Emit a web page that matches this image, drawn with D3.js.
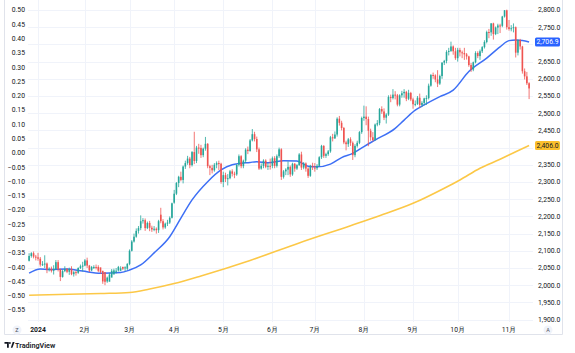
<!DOCTYPE html>
<html>
<head>
<meta charset="utf-8">
<script src="https://cdnjs.cloudflare.com/ajax/libs/d3/7.8.5/d3.min.js"></script>
<style>
  body { margin: 0; background: #fff; }
  svg { display: block; font-family: Roboto, "Liberation Sans", sans-serif; }
</style>
</head>
<body>
<div id="chart"></div>
<script>
// trading sessions, by month
const tradingDays = [
  ["2023-12", [26, 27, 28, 29]],
  ["2024-01", [2, 3, 4, 5, 8, 9, 10, 11, 12, 16, 17, 18, 19, 22, 23, 24, 25, 26, 29, 30, 31]],
  ["2024-02", [1, 2, 5, 6, 7, 8, 9, 12, 13, 14, 15, 16, 20, 21, 22, 23, 26, 27, 28, 29]],
  ["2024-03", [1, 4, 5, 6, 7, 8, 11, 12, 13, 14, 15, 18, 19, 20, 21, 22, 25, 26, 27, 28]],
  ["2024-04", [1, 2, 3, 4, 5, 8, 9, 10, 11, 12, 15, 16, 17, 18, 19, 22, 23, 24, 25, 26, 29, 30]],
  ["2024-05", [1, 2, 3, 6, 7, 8, 9, 10, 13, 14, 15, 16, 17, 20, 21, 22, 23, 24, 28, 29, 30, 31]],
  ["2024-06", [3, 4, 5, 6, 7, 10, 11, 12, 13, 14, 17, 18, 20, 21, 24, 25, 26, 27, 28]],
  ["2024-07", [1, 2, 3, 5, 8, 9, 10, 11, 12, 15, 16, 17, 18, 19, 22, 23, 24, 25, 26, 29, 30, 31]],
  ["2024-08", [1, 2, 5, 6, 7, 8, 9, 12, 13, 14, 15, 16, 19, 20, 21, 22, 23, 26, 27, 28, 29, 30]],
  ["2024-09", [3, 4, 5, 6, 9, 10, 11, 12, 13, 16, 17, 18, 19, 20, 23, 24, 25, 26, 27, 30]],
  ["2024-10", [1, 2, 3, 4, 7, 8, 9, 10, 11, 14, 15, 16, 17, 18, 21, 22, 23, 24, 25, 28, 29, 30, 31]],
  ["2024-11", [1, 4, 5, 6, 7, 8, 11, 12, 13, 14]]
];

const opens = [
  2071, 2085, 2093, 2083,
  2081, 2077, 2060, 2061, 2063, 2045, 2048, 2042, 2047, 2067, 2046, 2024, 2041, 2047, 2039, 2047, 2032, 2038, 2036, 2050, 2055,
  2057, 2072, 2057, 2043, 2053, 2053, 2053, 2052, 2042, 2038, 2011, 2010, 2022, 2031, 2042, 2043, 2042, 2053, 2049, 2048,
  2062, 2100, 2127, 2141, 2158, 2166, 2186, 2189, 2166, 2181, 2167, 2162, 2164, 2160, 2205, 2186, 2168, 2179, 2182, 2196,
  2240, 2266, 2297, 2315, 2306, 2345, 2355, 2368, 2349, 2387, 2361, 2400, 2399, 2378, 2397, 2411, 2346, 2341, 2334, 2350, 2355, 2353,
  2300, 2320, 2309, 2311, 2331, 2324, 2322, 2350, 2375, 2346, 2362, 2394, 2390, 2421, 2439, 2425, 2395, 2339, 2347, 2362, 2344, 2347,
  2347, 2369, 2347, 2375, 2395, 2315, 2331, 2336, 2344, 2322, 2353, 2339, 2349, 2380, 2342, 2354, 2339, 2318, 2347,
  2342, 2340, 2347, 2372, 2405, 2376, 2381, 2389, 2430, 2427, 2438, 2484, 2472, 2457, 2415, 2410, 2424, 2414, 2378, 2405, 2414, 2445,
  2486, 2490, 2483, 2449, 2430, 2422, 2467, 2471, 2512, 2505, 2487, 2496, 2547, 2544, 2554, 2552, 2525, 2552, 2558, 2562, 2542, 2559,
  2540, 2526, 2527, 2545, 2524, 2530, 2543, 2544, 2580, 2611, 2610, 2598, 2586, 2608, 2647, 2652, 2678, 2681, 2694, 2680,
  2660, 2684, 2677, 2675, 2671, 2665, 2640, 2627, 2648, 2675, 2666, 2680, 2692, 2707, 2736, 2735, 2761, 2730, 2749, 2755, 2754, 2781, 2799,
  2750, 2745, 2747, 2750, 2676, 2712, 2694, 2622, 2607, 2587
];
const highs = [
  2093, 2096, 2098, 2088,
  2094, 2082, 2070, 2087, 2066, 2052, 2054, 2058, 2073, 2073, 2048, 2045, 2055, 2050, 2051, 2055, 2041, 2042, 2052, 2060, 2068,
  2076, 2080, 2059, 2056, 2058, 2060, 2058, 2048, 2041, 2018, 2025, 2036, 2047, 2048, 2050, 2056, 2055, 2054, 2055, 2064,
  2104, 2131, 2150, 2165, 2172, 2203, 2195, 2194, 2185, 2187, 2173, 2172, 2168, 2190, 2225, 2192, 2182, 2190, 2200, 2240,
  2277, 2300, 2318, 2330, 2348, 2362, 2376, 2373, 2390, 2446, 2405, 2411, 2408, 2400, 2431, 2413, 2350, 2350, 2355, 2360, 2362, 2356,
  2330, 2327, 2323, 2335, 2337, 2330, 2352, 2380, 2378, 2365, 2398, 2403, 2425, 2454, 2446, 2432, 2400, 2354, 2366, 2366, 2355, 2368,
  2374, 2375, 2380, 2400, 2398, 2335, 2340, 2360, 2348, 2356, 2355, 2352, 2384, 2388, 2358, 2357, 2343, 2350, 2356,
  2355, 2352, 2375, 2408, 2407, 2385, 2393, 2434, 2440, 2447, 2488, 2492, 2478, 2460, 2420, 2428, 2430, 2418, 2410, 2420, 2448, 2490,
  2522, 2520, 2490, 2455, 2445, 2470, 2480, 2515, 2520, 2514, 2500, 2552, 2554, 2570, 2564, 2556, 2555, 2565, 2570, 2565, 2568, 2562,
  2545, 2537, 2550, 2557, 2535, 2545, 2552, 2586, 2614, 2618, 2613, 2625, 2612, 2648, 2655, 2683, 2690, 2708, 2697, 2690,
  2690, 2690, 2682, 2690, 2675, 2667, 2646, 2650, 2680, 2680, 2685, 2695, 2712, 2740, 2745, 2762, 2763, 2752, 2760, 2760, 2783, 2800, 2801,
  2771, 2756, 2761, 2752, 2715, 2716, 2696, 2630, 2620, 2590
];
const lows = [
  2069, 2080, 2078, 2072,
  2071, 2054, 2056, 2050, 2035, 2040, 2037, 2031, 2045, 2040, 2012, 2022, 2038, 2035, 2030, 2029, 2025, 2028, 2033, 2047, 2040,
  2055, 2050, 2038, 2041, 2047, 2046, 2038, 2033, 2004, 2000, 2007, 2015, 2029, 2035, 2034, 2040, 2042, 2044, 2041, 2044,
  2058, 2098, 2124, 2138, 2150, 2160, 2179, 2158, 2163, 2157, 2155, 2157, 2150, 2152, 2180, 2162, 2164, 2172, 2178, 2194,
  2237, 2262, 2285, 2302, 2296, 2338, 2350, 2340, 2345, 2352, 2355, 2382, 2370, 2372, 2391, 2340, 2320, 2325, 2330, 2340, 2335, 2295,
  2285, 2300, 2290, 2308, 2316, 2311, 2318, 2345, 2340, 2340, 2355, 2381, 2388, 2418, 2418, 2387, 2335, 2336, 2340, 2340, 2335, 2336,
  2340, 2340, 2342, 2370, 2306, 2310, 2320, 2320, 2315, 2318, 2330, 2335, 2347, 2335, 2337, 2330, 2312, 2315, 2335,
  2330, 2335, 2345, 2367, 2370, 2370, 2376, 2385, 2418, 2425, 2432, 2464, 2450, 2410, 2392, 2402, 2405, 2364, 2372, 2400, 2410, 2440,
  2478, 2465, 2404, 2420, 2418, 2420, 2462, 2465, 2498, 2480, 2470, 2492, 2532, 2540, 2540, 2520, 2520, 2545, 2545, 2535, 2538, 2535,
  2513, 2520, 2524, 2515, 2518, 2523, 2524, 2540, 2577, 2600, 2590, 2576, 2582, 2600, 2640, 2645, 2668, 2678, 2670, 2655,
  2650, 2665, 2660, 2655, 2656, 2635, 2620, 2622, 2645, 2660, 2655, 2675, 2688, 2703, 2718, 2725, 2714, 2727, 2730, 2733, 2750, 2778, 2743,
  2740, 2738, 2735, 2662, 2668, 2685, 2615, 2598, 2582, 2541
];
const closes = [
  2085, 2093, 2083, 2081,
  2077, 2060, 2061, 2063, 2045, 2048, 2042, 2047, 2067, 2046, 2024, 2041, 2047, 2039, 2047, 2032, 2038, 2036, 2050, 2055, 2057,
  2072, 2057, 2043, 2053, 2053, 2052, 2042, 2038, 2011, 2010, 2022, 2031, 2042, 2043, 2042, 2053, 2049, 2048, 2052, 2062,
  2100, 2127, 2141, 2158, 2166, 2186, 2189, 2166, 2181, 2167, 2162, 2164, 2160, 2186, 2186, 2168, 2179, 2182, 2196, 2238,
  2266, 2297, 2315, 2306, 2345, 2355, 2368, 2349, 2387, 2361, 2400, 2399, 2378, 2397, 2411, 2346, 2341, 2334, 2350, 2355, 2353, 2300,
  2320, 2309, 2311, 2331, 2324, 2322, 2350, 2375, 2346, 2362, 2394, 2390, 2421, 2439, 2425, 2395, 2339, 2347, 2362, 2344, 2347, 2345,
  2369, 2347, 2375, 2395, 2315, 2331, 2336, 2344, 2322, 2353, 2339, 2349, 2380, 2342, 2354, 2339, 2318, 2347, 2346,
  2340, 2347, 2372, 2405, 2376, 2381, 2389, 2430, 2427, 2438, 2484, 2472, 2457, 2415, 2410, 2424, 2414, 2378, 2405, 2414, 2445, 2486,
  2490, 2483, 2449, 2430, 2422, 2467, 2471, 2512, 2505, 2487, 2496, 2547, 2544, 2554, 2552, 2525, 2552, 2558, 2562, 2542, 2559, 2540,
  2526, 2527, 2545, 2524, 2530, 2543, 2544, 2580, 2611, 2610, 2598, 2586, 2608, 2647, 2652, 2678, 2681, 2694, 2680, 2660,
  2684, 2677, 2675, 2671, 2665, 2640, 2627, 2648, 2675, 2666, 2680, 2692, 2707, 2736, 2735, 2761, 2730, 2749, 2755, 2754, 2781, 2799, 2750,
  2745, 2747, 2750, 2676, 2712, 2694, 2622, 2607, 2587, 2572
];

// moving averages: bar index -> value
const fastMaBars = [0, 5, 9, 17, 24, 32, 41, 45, 50, 56, 63, 68, 73, 80, 86, 91, 99, 102, 107, 114, 120, 125, 129, 135, 140, 145, 150, 155, 164, 168, 173, 177, 184, 190, 197, 205, 211, 215, 218, 221, 224];
const fastMa = [2035, 2047, 2046, 2047, 2041, 2035, 2037, 2044, 2059, 2094, 2141, 2195, 2248, 2301, 2335, 2350, 2357, 2359, 2356, 2362, 2361, 2346, 2344, 2352, 2371, 2383, 2403, 2422, 2456, 2480, 2509, 2524, 2548, 2567, 2621, 2660, 2693, 2711, 2713, 2711, 2707];
const slowMaBars = [0, 32, 45, 54, 65, 77, 99, 121, 144, 157, 172, 186, 193, 202, 211, 218, 224];
const slowMa = [1971, 1976, 1979, 1989, 2005, 2027, 2072, 2123, 2173, 2202, 2238, 2282, 2306, 2340, 2366, 2388, 2406];

const monthLabels = ["2024", "2月", "3月", "4月", "5月", "6月", "7月", "8月", "9月", "10月", "11月"];
const leftTicks = [0.5, 0.45, 0.4, 0.35, 0.3, 0.25, 0.2, 0.15, 0.1, 0.05, 0, -0.05, -0.1, -0.15, -0.2, -0.25, -0.3, -0.35, -0.4, -0.45, -0.5, -0.55];
const rightTicks = d3.range(1900, 2801, 50);
const lastFast = 2706.9, lastSlow = 2406.0;

const width = 575, height = 353;
const plot = { left: 28, right: 533, top: 0, bottom: 322 };
const up = "#26a69a", down = "#ef5350";

const dates = tradingDays.flatMap(([m, ds]) => ds.map(d => m + "-" + String(d).padStart(2, "0")));
const bars = dates.map((d, i) => ({ date: d, o: opens[i], h: highs[i], l: lows[i], c: closes[i] }));

const x = d3.scalePoint().domain(dates).range([29.1, 529.1]);
const y = d3.scaleLinear().domain([1900, 2800]).range([319.6, 10]);
const yLeft = d3.scaleLinear().domain([-0.55, 0.5]).range([310, 10]);

const svg = d3.select("#chart").append("svg")
  .attr("width", width)
  .attr("height", height);

// frame
svg.append("path")
  .attr("d", `M4.5,0V334.5H562.5V0`)
  .attr("fill", "none")
  .attr("stroke", "#e0e3eb")
  .attr("stroke-width", 1);

// month starts (skip Dec 2023)
const monthStarts = tradingDays.slice(1).map(([m, ds]) => m + "-" + String(ds[0]).padStart(2, "0"));

const grid = svg.append("g").attr("stroke", "#f0f3fa").attr("stroke-width", 1);
grid.selectAll(".h").data(rightTicks).join("line")
  .attr("x1", plot.left).attr("x2", plot.right)
  .attr("y1", d => Math.round(y(d)) + 0.5).attr("y2", d => Math.round(y(d)) + 0.5);
grid.selectAll(".v").data(monthStarts).join("line")
  .attr("x1", d => Math.round(x(d)) + 0.5).attr("x2", d => Math.round(x(d)) + 0.5)
  .attr("y1", plot.top).attr("y2", plot.bottom);

// left scale
svg.append("g").selectAll("text").data(leftTicks).join("text")
  .attr("x", 25).attr("y", d => yLeft(d) + 2.4)
  .attr("text-anchor", "end")
  .attr("font-size", 6.8)
  .attr("fill", "#131722")
  .text(d => d3.format(".2f")(d));

// right scale, ticks behind the value labels are hidden
const fmt = d3.format(",.1f");
svg.append("g").selectAll("text")
  .data(rightTicks.filter(t => Math.abs(y(t) - y(lastFast)) > 7 && Math.abs(y(t) - y(lastSlow)) > 7))
  .join("text")
  .attr("x", 538).attr("y", d => y(d) + 2.4)
  .attr("font-size", 6.8)
  .attr("fill", "#131722")
  .text(d => fmt(d));

// time scale
svg.append("g").selectAll("text").data(monthStarts).join("text")
  .attr("x", d => x(d)).attr("y", 332)
  .attr("text-anchor", "middle")
  .attr("font-size", 6.8)
  .attr("font-weight", (d, i) => i === 0 ? 700 : 400)
  .attr("fill", "#131722")
  .text((d, i) => monthLabels[i]);

// moving averages
const line = d3.line().x(d => x(dates[d[0]])).y(d => y(d[1])).curve(d3.curveMonotoneX);
svg.append("path")
  .datum(slowMaBars.map((b, i) => [b, slowMa[i]]))
  .attr("d", line)
  .attr("fill", "none")
  .attr("stroke", "#fcc847")
  .attr("stroke-width", 1.6);
svg.append("path")
  .datum(fastMaBars.map((b, i) => [b, fastMa[i]]))
  .attr("d", line)
  .attr("fill", "none")
  .attr("stroke", "#3d6ff5")
  .attr("stroke-width", 1.5);

// candles
const candles = svg.append("g").selectAll("g").data(bars).join("g")
  .attr("fill", d => d.c >= d.o ? up : down)
  .attr("stroke", d => d.c >= d.o ? up : down);
candles.append("line")
  .attr("x1", d => x(d.date)).attr("x2", d => x(d.date))
  .attr("y1", d => y(d.h)).attr("y2", d => y(d.l))
  .attr("stroke-width", 0.8);
candles.append("rect")
  .attr("x", d => x(d.date) - 0.8)
  .attr("width", 1.6)
  .attr("y", d => y(Math.max(d.o, d.c)))
  .attr("height", d => Math.max(1, Math.abs(y(d.o) - y(d.c))))
  .attr("stroke", "none");

// last value labels
const tags = [
  { v: lastFast, bg: "#2962ff", fg: "#fff" },
  { v: lastSlow, bg: "#fbc02d", fg: "#131722" }
];
const tag = svg.append("g").selectAll("g").data(tags).join("g");
tag.append("rect")
  .attr("x", 535).attr("y", d => y(d.v) - 4.5)
  .attr("width", 25).attr("height", 9).attr("rx", 1.5)
  .attr("fill", d => d.bg);
tag.append("text")
  .attr("x", 547.5).attr("y", d => y(d.v) + 2.4)
  .attr("text-anchor", "middle")
  .attr("font-size", 6.8)
  .attr("fill", d => d.fg)
  .text(d => fmt(d.v));

// corner buttons
const btn = svg.append("g").selectAll("g").data([[17, "Z"], [548, "A"]]).join("g");
btn.append("circle").attr("cx", d => d[0]).attr("cy", 330).attr("r", 4.5).attr("fill", "#f0f3fa");
btn.append("text").attr("x", d => d[0]).attr("y", 332)
  .attr("text-anchor", "middle").attr("font-size", 5.5).attr("fill", "#50535e")
  .text(d => d[1]);

// logo
const logo = svg.append("g").attr("fill", "#131722");
logo.append("path").attr("d", "M4.5,342h4.3v5.8h-1.8v-4.1h-2.5z");
logo.append("circle").attr("cx", 9.9).attr("cy", 343).attr("r", 0.9);
logo.append("path").attr("d", "M10.8,347.8l1.9,-5.8h1.9l-2.2,5.8z");
logo.append("text")
  .attr("x", 15).attr("y", 348)
  .attr("font-size", 7.2)
  .attr("font-weight", 600)
  .text("TradingView");
</script>
</body>
</html>
